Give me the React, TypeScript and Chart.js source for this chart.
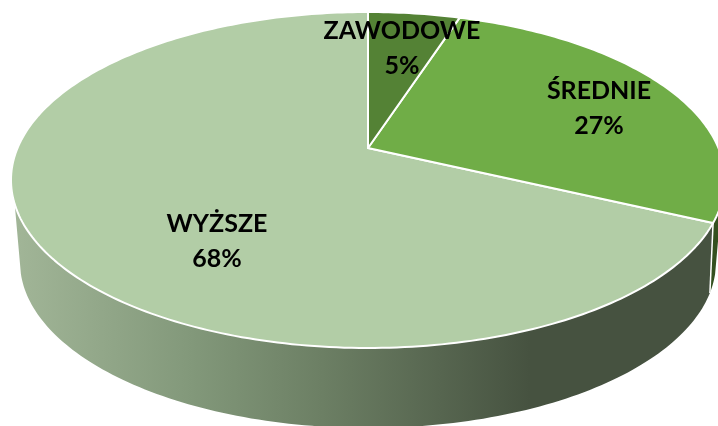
import React, { useEffect, useRef } from "react";
import { Chart, registerables } from "chart.js";

Chart.register(...registerables);

const categories = ["ZAWODOWE", "ŚREDNIE", "WYŻSZE"];
const shares = [5, 27, 68];
const faceColors = ["#548235", "#70AD47", "#B2CDA6"];

const WIDTH = 718;
const HEIGHT = 426;
const CX = 368;
const DEG = Math.PI / 180;
const LABEL_FONT = "bold 25px Lato, 'Open Sans', sans-serif";
const LINE_GAP = 35;
const labelCenters = [
  [402, 48],
  [599, 108],
  [217, 241],
];

// Perspective view of a circle: top and bottom pixel rows, half width, and tilt.
type View = { top: number; bottom: number; half: number; tilt: number };
const faceView: View = { top: 12, bottom: 348, half: 357, tilt: 0.1905 };
const baseView: View = { top: 96, bottom: 428, half: 348, tilt: 0.26 };

function project(view: View, angle: number): [number, number] {
  const { top, bottom, half, tilt } = view;
  const apex = (top + bottom - (bottom - top) * tilt) / 2;
  const b = top + top * tilt - apex;
  const r = half * Math.sqrt(1 - tilt * tilt);
  const u = Math.cos(angle);
  const v = -Math.sin(angle);
  const d = 1 + tilt * v;
  return [CX + (u * r) / d, (b * v + apex) / d];
}

function trace(ctx: CanvasRenderingContext2D, view: View, from: number, to: number, join: boolean) {
  const steps = Math.max(2, Math.ceil(Math.abs(to - from) / DEG));
  for (let i = 0; i <= steps; i++) {
    const [x, y] = project(view, from + ((to - from) * i) / steps);
    if (i === 0 && !join) ctx.moveTo(x, y);
    else ctx.lineTo(x, y);
  }
}

const perspectivePie = {
  id: "perspectivePie",
  beforeDatasetsDraw(chart: any) {
    const ctx: CanvasRenderingContext2D = chart.ctx;
    const arcs = chart.getDatasetMeta(0).data;
    const splitAngle = arcs[1].endAngle;
    const wallLeft = 161 * DEG;
    const wallRight = 19 * DEG;

    ctx.save();

    // Wall under the large slice
    const grad = ctx.createLinearGradient(11, 0, 530, 0);
    grad.addColorStop(0, "#A2B698");
    grad.addColorStop(0.35, "#82987A");
    grad.addColorStop(0.6, "#6C7F64");
    grad.addColorStop(1, "#465240");
    ctx.beginPath();
    trace(ctx, faceView, wallLeft, splitAngle, false);
    trace(ctx, baseView, splitAngle, wallLeft, true);
    ctx.closePath();
    ctx.fillStyle = grad;
    ctx.fill();

    // Wall under the middle slice
    ctx.beginPath();
    trace(ctx, faceView, splitAngle, wallRight, false);
    trace(ctx, baseView, wallRight, splitAngle, true);
    ctx.closePath();
    ctx.fillStyle = "#34501F";
    ctx.fill();

    // Seam between the two walls
    const [sx, sy] = project(faceView, splitAngle);
    const [ex, ey] = project(baseView, splitAngle);
    ctx.beginPath();
    ctx.moveTo(sx, sy);
    ctx.lineTo(ex, ey);
    ctx.strokeStyle = "#FFFFFF";
    ctx.lineWidth = 1.5;
    ctx.stroke();

    // Top faces, using the angles computed by the pie controller
    const apex = (faceView.top + faceView.bottom - (faceView.bottom - faceView.top) * faceView.tilt) / 2;
    const order = [2, 1, 0];
    order.forEach((i) => {
      const arc = arcs[i];
      ctx.beginPath();
      ctx.moveTo(CX, apex);
      trace(ctx, faceView, arc.startAngle, arc.endAngle, true);
      ctx.closePath();
      ctx.fillStyle = arc.options.backgroundColor;
      ctx.fill();
      ctx.strokeStyle = arc.options.borderColor;
      ctx.lineWidth = arc.options.borderWidth;
      ctx.lineJoin = "round";
      ctx.stroke();
    });

    // Labels
    const total = shares.reduce((a, b) => a + b, 0);
    ctx.font = LABEL_FONT;
    ctx.fillStyle = "#000000";
    ctx.textAlign = "center";
    ctx.textBaseline = "middle";
    chart.data.labels.forEach((name: string, i: number) => {
      const [lx, ly] = labelCenters[i];
      const pct = Math.round((chart.data.datasets[0].data[i] / total) * 100) + "%";
      ctx.fillText(name, lx, ly - LINE_GAP / 2);
      ctx.fillText(pct, lx, ly + LINE_GAP / 2);
    });

    ctx.restore();
    return false;
  },
};

export default function App() {
  const ref = useRef<HTMLCanvasElement>(null);
  useEffect(() => {
    document.body.style.margin = "0";
    document.body.style.overflow = "hidden";
    const chart = new Chart(ref.current as HTMLCanvasElement, {
      type: "pie",
      data: {
        labels: categories,
        datasets: [
          {
            data: shares,
            backgroundColor: faceColors,
            borderColor: "#FFFFFF",
            borderWidth: 2,
          },
        ],
      },
      options: {
        responsive: false,
        animation: false,
        events: [],
        plugins: { legend: { display: false }, tooltip: { enabled: false } },
      },
      plugins: [perspectivePie],
    } as any);
    return () => chart.destroy();
  }, []);
  return (
    <canvas
      ref={ref}
      width={WIDTH}
      height={HEIGHT}
      style={{ display: "block", width: WIDTH, height: HEIGHT, background: "#FFFFFF" }}
    />
  );
}
